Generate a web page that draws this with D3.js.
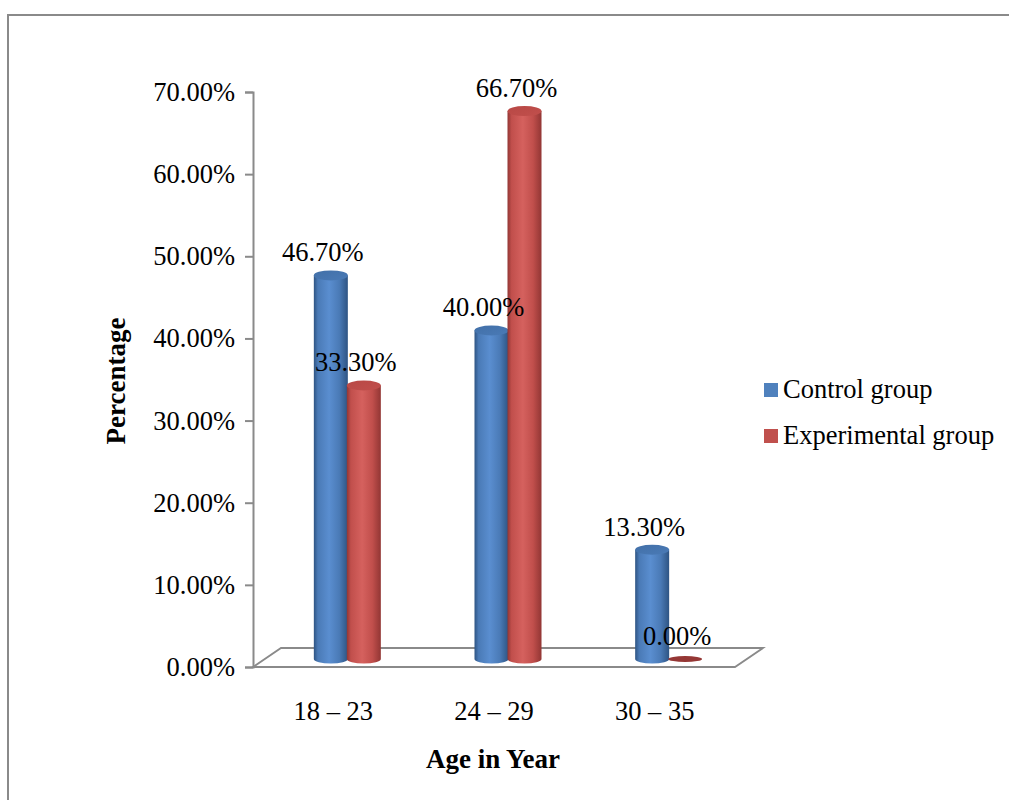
<!DOCTYPE html>
<html>
<head>
<meta charset="utf-8">
<script src="https://cdn.jsdelivr.net/npm/d3@7/dist/d3.min.js"></script>
<style>
  html, body { margin: 0; padding: 0; background: #fff; }
  svg { display: block; }
  text { font-family: "Liberation Serif", "Times New Roman", serif; fill: #000; }
</style>
</head>
<body>
<svg id="chart" width="1009" height="800"></svg>
<script>
// Age distribution of participants by group (percent)
const categories = ["18 \u2013 23", "24 \u2013 29", "30 \u2013 35"];
const seriesNames = ["Control group", "Experimental group"];
const controlValues = [46.7, 40.0, 13.3];
const experimentalValues = [33.3, 66.7, 0.0];
const tickValues = [0, 10, 20, 30, 40, 50, 60, 70];

const FONT = "26.5px";
const svg = d3.select("#chart");

// outer chart frame
svg.append("rect")
  .attr("x", 8).attr("y", 15)
  .attr("width", 1020).attr("height", 800)
  .attr("fill", "none").attr("stroke", "#8a8a8a").attr("stroke-width", 2);

const plot = { left: 253, right: 735, top: 92, bottom: 667 };
const depth = { dx: 28, dy: -19 };          // floor depth
const barShift = { dx: 14, dy: -8 };        // bars stand mid-depth

const y = d3.scaleLinear().domain([0, 70]).range([plot.bottom, plot.top]);
const x = d3.scaleBand().domain(categories).range([plot.left, plot.right]).padding(0);
const inner = d3.scaleBand().domain(seriesNames).range([-33, 33]).padding(0);
const barW = 34;

const colors = {
  "Control group": { dark: "#2e5483", mid: "#4a7ab6", light: "#5a8ed0", cap: "#4270a8", flat: "#345f96", legend: "#4f81bd" },
  "Experimental group": { dark: "#923634", mid: "#c14f4c", light: "#d5615e", cap: "#b84845", flat: "#953735", legend: "#c0504d" }
};

// cylinder gradients
const defs = svg.append("defs");
seriesNames.forEach((name, i) => {
  const c = colors[name];
  const g = defs.append("linearGradient").attr("id", "cyl" + i)
    .attr("x1", "0%").attr("x2", "100%").attr("y1", "0%").attr("y2", "0%");
  [[0, c.dark], [0.12, c.mid], [0.45, c.light], [0.75, c.mid], [1, c.dark]]
    .forEach(([o, col]) => g.append("stop").attr("offset", o).attr("stop-color", col));
  const cg = defs.append("linearGradient").attr("id", "cap" + i)
    .attr("x1", "0%").attr("x2", "100%").attr("y1", "0%").attr("y2", "100%");
  [[0, c.cap], [1, c.mid]].forEach(([o, col]) => cg.append("stop").attr("offset", o).attr("stop-color", col));
});

// floor
const fl = plot.left, fr = plot.right, fb = plot.bottom;
svg.append("path")
  .attr("d", `M${fl},${fb} L${fl + depth.dx},${fb + depth.dy} L${fr + depth.dx},${fb + depth.dy} L${fr},${fb} Z`)
  .attr("fill", "none").attr("stroke", "#8a8a8a").attr("stroke-width", 1.8);

// y axis
const axis = svg.append("g").attr("transform", `translate(${plot.left},0)`)
  .call(d3.axisLeft(y).tickValues(tickValues).tickSize(8).tickPadding(10)
    .tickFormat(d => d.toFixed(2) + "%"));
axis.select(".domain").attr("stroke", "#8a8a8a").attr("stroke-width", 2);
axis.selectAll(".tick line").attr("stroke", "#8a8a8a").attr("stroke-width", 2);
axis.selectAll(".tick text")
  .style("font-family", "'Liberation Serif', serif").style("font-size", FONT).attr("fill", "#000");

// bars as cylinders
const rows = [];
categories.forEach((cat, ci) => {
  rows.push({ cat, series: seriesNames[0], si: 0, value: controlValues[ci] });
  rows.push({ cat, series: seriesNames[1], si: 1, value: experimentalValues[ci] });
});

const rx = barW / 2, ryTop = 5, ryBot = 4.5;
const bars = svg.append("g").selectAll("g").data(rows).join("g");
bars.each(function (d) {
  const g = d3.select(this);
  const cx = x(d.cat) + x.bandwidth() / 2 + barShift.dx + inner(d.series) + inner.bandwidth() / 2;
  const y0 = y(0) + barShift.dy;
  const y1 = y(d.value) + barShift.dy;
  d.cx = cx; d.top = y1;
  if (d.value <= 0) {
    g.append("ellipse").attr("cx", cx).attr("cy", y0).attr("rx", rx).attr("ry", 3)
      .attr("fill", colors[d.series].flat);
    return;
  }
  g.append("path")
    .attr("d", `M${cx - rx},${y1} L${cx - rx},${y0} A${rx},${ryBot} 0 0 0 ${cx + rx},${y0} L${cx + rx},${y1} Z`)
    .attr("fill", `url(#cyl${d.si})`);
  g.append("ellipse").attr("cx", cx).attr("cy", y1).attr("rx", rx).attr("ry", ryTop)
    .attr("fill", `url(#cap${d.si})`);
});

// value labels
svg.append("g").selectAll("text").data(rows).join("text")
  .attr("x", d => d.cx - 8)
  .attr("y", d => d.top - 14)
  .attr("text-anchor", "middle")
  .style("font-size", FONT)
  .text(d => d.value.toFixed(2) + "%");

// category labels
svg.append("g").selectAll("text").data(categories).join("text")
  .attr("x", d => x(d) + x.bandwidth() / 2)
  .attr("y", 720)
  .attr("text-anchor", "middle")
  .style("font-size", FONT)
  .text(d => d);

// axis titles
svg.append("text")
  .attr("x", 493).attr("y", 768)
  .attr("text-anchor", "middle")
  .style("font-size", "27px").style("font-weight", "bold")
  .text("Age in Year");
svg.append("text")
  .attr("transform", "translate(125,381) rotate(-90)")
  .attr("text-anchor", "middle")
  .style("font-size", "27px").style("font-weight", "bold")
  .text("Percentage");

// legend
const legend = svg.append("g").selectAll("g").data(seriesNames).join("g")
  .attr("transform", (d, i) => `translate(764,${383 + i * 46})`);
legend.append("rect").attr("width", 14).attr("height", 14)
  .attr("fill", d => colors[d].legend);
legend.append("text").attr("x", 19).attr("y", 15)
  .style("font-size", FONT)
  .text(d => d);
</script>
</body>
</html>
